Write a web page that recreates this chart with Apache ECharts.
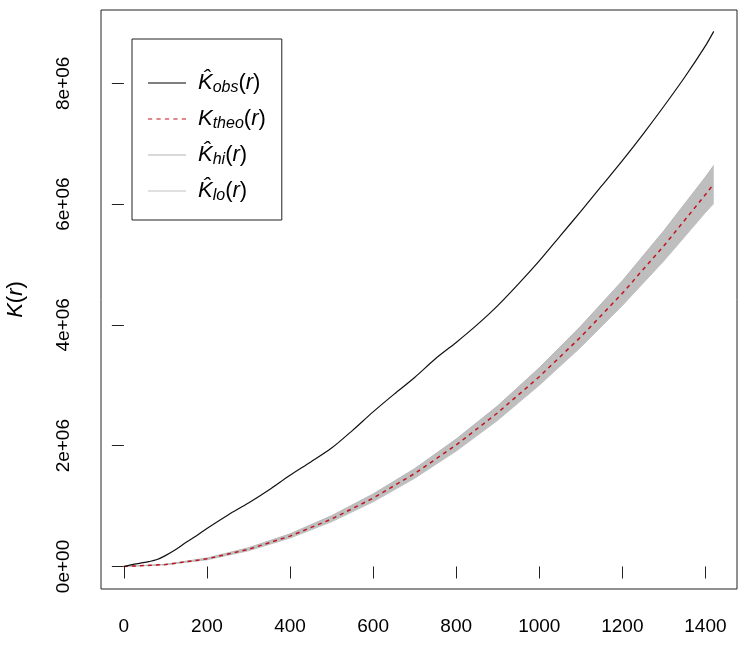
<!DOCTYPE html>
<html>
<head>
<meta charset="utf-8">
<script src="https://cdn.jsdelivr.net/npm/echarts@6.0.0/dist/echarts.min.js"></script>
<style>html,body{margin:0;padding:0;background:#fff}#chart{width:742px;height:659px}</style>
</head>
<body>
<div id="chart"></div>
<script>
var obsR = [0, 20, 40, 60, 80, 100, 125, 150, 175, 200, 250, 300, 350, 400, 450, 500, 550, 600, 650, 700,
            750, 800, 850, 900, 950, 1000, 1050, 1100, 1150, 1200, 1250, 1300, 1350, 1400, 1420];
var obsK = [0, 30000, 55000, 80000, 115000, 180000, 280000, 400000, 510000, 630000, 850000, 1050000, 1270000,
            1510000, 1730000, 1960000, 2250000, 2560000, 2850000, 3130000, 3440000, 3710000, 4000000, 4320000,
            4680000, 5060000, 5470000, 5880000, 6300000, 6720000, 7160000, 7620000, 8100000, 8620000, 8860000];
// theoretical K and simulation envelope
var envR = [0, 100, 200, 300, 400, 500, 600, 700, 800, 900, 1000, 1100, 1200, 1300, 1400, 1420];
var theoK = [0, 31000, 126000, 283000, 503000, 785000, 1131000, 1539000, 2011000, 2545000, 3142000, 3801000,
             4524000, 5309000, 6158000, 6335000];
var hiK = [0, 36000, 140000, 310000, 540000, 840000, 1200000, 1620000, 2110000, 2660000, 3290000, 3980000,
           4730000, 5560000, 6450000, 6640000];
var loK = [0, 27000, 110000, 260000, 470000, 740000, 1070000, 1460000, 1910000, 2420000, 3000000, 3630000,
           4320000, 5060000, 5860000, 6010000];
var xTicks = [0, 200, 400, 600, 800, 1000, 1200, 1400];
var yTicks = [0, 2000000, 4000000, 6000000, 8000000];
var yTickLabels = ['0e+00', '2e+06', '4e+06', '6e+06', '8e+06'];

var FONT = '"Liberation Sans", Arial, sans-serif';

function pairs(xs, ys) {
    return xs.map(function(x, i) { return [x, ys[i]]; });
}

var legendText = {
    obs: '{k|K\u0302}{s|obs}{n|(}{k|r}{n|)}',
    theo: '{k|K}{s|theo}{n|(}{k|r}{n|)}',
    hi: '{k|K\u0302}{s|hi}{n|(}{k|r}{n|)}',
    lo: '{k|K\u0302}{s|lo}{n|(}{k|r}{n|)}'
};
var solidIcon = 'path://M0,0H38V1H0Z';
var dashIcon = 'path://M0,0h4v1h-4zM8,0h4v1h-4zM16,0h4v1h-4zM24,0h4v1h-4zM32,0h4v1h-4z';

var option = {
    animation: false,
    backgroundColor: '#fff',
    grid: {
        left: 101, right: 5, top: 10, bottom: 70,
        outerBoundsMode: 'none',
        show: true, borderColor: '#222', borderWidth: 1
    },
    legend: {
        orient: 'vertical',
        left: 132, top: 39,
        data: [
            { name: 'obs', icon: solidIcon },
            { name: 'theo', icon: dashIcon },
            { name: 'hi', icon: solidIcon },
            { name: 'lo', icon: solidIcon }
        ],
        itemWidth: 38, itemHeight: 1.6, itemGap: 12,
        padding: [33, 16, 16, 16],
        borderColor: '#222', borderWidth: 1,
        formatter: function(name) { return legendText[name]; },
        textStyle: {
            color: '#000',
            fontFamily: FONT,
            padding: [0, 0, 0, 7],
            rich: {
                k: { fontStyle: 'italic', fontSize: 22, lineHeight: 26, fontFamily: FONT, color: '#000' },
                s: { fontStyle: 'italic', fontSize: 16, lineHeight: 16, verticalAlign: 'bottom', fontFamily: FONT, color: '#000' },
                n: { fontSize: 22, lineHeight: 26, fontFamily: FONT, color: '#000' }
            }
        }
    },
    xAxis: {
        type: 'value',
        min: -55, max: 1476,
        axisLine: { show: false },
        splitLine: { show: false },
        axisTick: { show: true, length: 12, customValues: xTicks, lineStyle: { color: '#222' } },
        axisLabel: {
            customValues: xTicks, margin: 28,
            fontSize: 19, fontFamily: FONT, color: '#000',
            formatter: function(v) { return String(v); }
        }
    },
    yAxis: {
        type: 'value',
        min: -373000, max: 9214000,
        name: '{i|K}{n|(}{i|r}{n|)}',
        nameLocation: 'middle',
        nameRotate: 90,
        nameGap: 74,
        nameTextStyle: {
            rich: {
                i: { fontStyle: 'italic', fontSize: 22, fontFamily: FONT, color: '#000' },
                n: { fontSize: 22, fontFamily: FONT, color: '#000' }
            }
        },
        axisLine: { show: false },
        splitLine: { show: false },
        axisTick: { show: true, length: 12, customValues: yTicks, lineStyle: { color: '#222' } },
        axisLabel: {
            customValues: yTicks, rotate: 90, margin: 28,
            fontSize: 19, fontFamily: FONT, color: '#000',
            formatter: function(v) { return yTickLabels[yTicks.indexOf(v)]; }
        }
    },
    series: [{
        // grey envelope between lo and hi
        name: 'band',
        type: 'custom',
        silent: true,
        z: 1,
        data: [0],
        renderItem: function(params, api) {
            var pts = [];
            for (var i = 0; i < envR.length; i++) pts.push(api.coord([envR[i], hiK[i]]));
            for (var j = envR.length - 1; j >= 0; j--) pts.push(api.coord([envR[j], loK[j]]));
            return { type: 'polygon', shape: { points: pts }, style: { fill: '#bebebe', stroke: null } };
        }
    }, {
        name: 'lo',
        type: 'line',
        symbol: 'none',
        z: 2,
        color: '#c2c2c2',
        lineStyle: { color: '#c2c2c2', width: 1 },
        data: pairs(envR, loK)
    }, {
        name: 'hi',
        type: 'line',
        symbol: 'none',
        z: 2,
        color: '#b4b4b4',
        lineStyle: { color: '#b8b8b8', width: 1 },
        data: pairs(envR, hiK)
    }, {
        name: 'theo',
        type: 'line',
        symbol: 'none',
        z: 3,
        color: '#c0141f',
        lineStyle: { color: '#c0141f', width: 1.5, type: [4, 4] },
        data: pairs(envR, theoK)
    }, {
        name: 'obs',
        type: 'line',
        symbol: 'none',
        smooth: 0.3,
        z: 4,
        color: '#000',
        lineStyle: { color: '#111', width: 1.2 },
        data: pairs(obsR, obsK)
    }]
};

var myChart = echarts.init(document.getElementById('chart'));
myChart.setOption(option);
</script>
</body>
</html>
